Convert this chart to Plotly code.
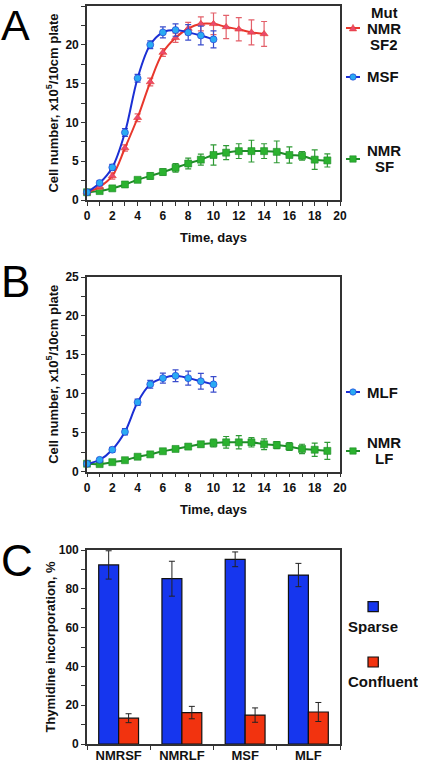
import plotly.graph_objects as go

# ---------------- data ----------------
# Panel A
days_msf = list(range(0, 11))
msf = [1.0, 2.2, 4.2, 8.7, 15.7, 20.0, 21.6, 21.9, 21.6, 21.2, 20.7]
msf_err = [0.2, 0.3, 0.4, 0.5, 0.5, 0.5, 0.7, 0.8, 1.0, 1.2, 1.1]

days_mut = list(range(0, 15))
mut = [1.0, 1.7, 3.1, 6.7, 10.6, 15.2, 19.0, 20.9, 22.1, 22.7, 22.7, 22.3, 22.0, 21.6, 21.4]
mut_err = [0.2, 0.3, 0.4, 0.4, 0.5, 0.5, 0.5, 0.6, 0.8, 0.9, 1.4, 1.5, 1.5, 1.6, 1.6]

days_nmrsf = list(range(0, 20))
nmrsf = [1.0, 1.15, 1.5, 2.0, 2.6, 3.1, 3.6, 4.15, 4.7, 5.2, 5.8, 6.1, 6.3, 6.3, 6.3, 6.2, 5.8, 5.7, 5.2, 5.1]
nmrsf_err = [0.2, 0.2, 0.2, 0.2, 0.3, 0.4, 0.4, 0.55, 0.7, 0.7, 1.3, 0.9, 0.95, 1.4, 0.95, 1.4, 1.05, 0.55, 1.25, 0.85]

# Panel B
days_mlf = list(range(0, 11))
mlf = [1.0, 1.5, 2.8, 5.1, 8.9, 11.2, 12.0, 12.3, 12.0, 11.6, 11.2]
mlf_err = [0.2, 0.2, 0.3, 0.4, 0.4, 0.5, 0.65, 0.75, 0.9, 1.0, 1.0]

days_nmrlf = list(range(0, 20))
nmrlf = [1.0, 0.95, 1.2, 1.45, 1.9, 2.2, 2.6, 2.9, 3.2, 3.5, 3.65, 3.75, 3.75, 3.75, 3.5, 3.4, 3.2, 2.9, 2.8, 2.65]
nmrlf_err = [0.15, 0.15, 0.15, 0.2, 0.2, 0.25, 0.25, 0.3, 0.3, 0.35, 0.5, 0.75, 0.85, 0.6, 0.7, 0.45, 0.5, 0.6, 0.85, 1.1]

# Panel C
cell_types = ["NMRSF", "NMRLF", "MSF", "MLF"]
sparse = [92.3, 85.2, 95.2, 87.1]
sparse_err = [7.3, 9.0, 3.8, 6.0]
confluent = [13.3, 16.2, 14.9, 16.5]
confluent_err = [2.3, 3.2, 3.7, 4.9]

x_ticks_days = [0, 2, 4, 6, 8, 10, 12, 14, 16, 18, 20]

# ---------------- styling ----------------
W, H = 424, 764
FONT = "Liberation Sans, Arial, sans-serif"
AXC = "#333333"

BLUE_L, BLUE_M, BLUE_E = "#1b2fd4", "#2aaaf2", "#3a4ccc"
RED_L, RED_M, RED_E = "#e8372c", "#ea4a6c", "#e3606a"
GRN_L, GRN_M, GRN_E = "#1f8c28", "#2bb22f", "#2f9a35"
BAR_BLUE, BAR_RED = "#1636ee", "#f2330f"


def px(x):
    return x / W


def py(y):
    return 1 - y / H


def series(xs, ys, es, xa, ya, lc, mc, ec, sym, size=7):
    return go.Scatter(
        x=xs, y=ys, xaxis=xa, yaxis=ya, mode="lines+markers",
        line=dict(color=lc, width=2, shape="spline", smoothing=1.0),
        marker=dict(color=mc, symbol=sym, size=size, line=dict(color=lc, width=0.6)),
        error_y=dict(type="data", array=es, visible=True, color=ec, thickness=1.2, width=3),
        cliponaxis=False, showlegend=False,
    )


fig = go.Figure()
# Panel A
fig.add_trace(series(days_nmrsf, nmrsf, nmrsf_err, "x", "y", GRN_L, GRN_M, GRN_E, "square"))
fig.add_trace(series(days_mut, mut, mut_err, "x", "y", RED_L, RED_M, RED_E, "triangle-up"))
fig.add_trace(series(days_msf, msf, msf_err, "x", "y", BLUE_L, BLUE_M, BLUE_E, "circle"))
# Panel B
fig.add_trace(series(days_nmrlf, nmrlf, nmrlf_err, "x2", "y2", GRN_L, GRN_M, GRN_E, "square"))
fig.add_trace(series(days_mlf, mlf, mlf_err, "x2", "y2", BLUE_L, BLUE_M, BLUE_E, "circle"))
# Panel C
fig.add_trace(go.Bar(x=cell_types, y=sparse, name="Sparse", xaxis="x3", yaxis="y3",
                     marker=dict(color=BAR_BLUE, line=dict(color="#111", width=1.2)),
                     error_y=dict(type="data", array=sparse_err, color="#222", thickness=1, width=3),
                     showlegend=False))
fig.add_trace(go.Bar(x=cell_types, y=confluent, name="Confluent", xaxis="x3", yaxis="y3",
                     marker=dict(color=BAR_RED, line=dict(color="#111", width=1.2)),
                     error_y=dict(type="data", array=confluent_err, color="#222", thickness=1, width=3),
                     showlegend=False))

tickfont = dict(family=FONT, size=12, color="#111", weight="bold")
titlefont = dict(family=FONT, size=13, color="#111", weight="bold")
xdom = [px(87), px(340)]


def xaxis_days(anchor):
    return dict(domain=xdom, anchor=anchor, range=[0, 20], tickvals=x_ticks_days,
                ticks="outside", ticklen=4, tickwidth=1.2, tickcolor=AXC,
                minor=dict(dtick=1, tick0=0, ticks="outside", ticklen=4, tickwidth=1.2, tickcolor=AXC),
                showline=True, linecolor=AXC, linewidth=1.6, mirror=True, automargin=False,
                showgrid=False, zeroline=False, tickfont=tickfont,
                title=dict(text="Time, days", font=titlefont, standoff=11))


def yaxis_cells(anchor, dom):
    return dict(domain=dom, anchor=anchor, range=[0, 25], dtick=5, tick0=0,
                ticks="outside", ticklen=4, tickwidth=1.2, tickcolor=AXC,
                minor=dict(dtick=2.5, tick0=0, ticks="outside", ticklen=4, tickwidth=1.2, tickcolor=AXC),
                showline=True, linecolor=AXC, linewidth=1.6, mirror=True, automargin=False,
                showgrid=False, zeroline=False, tickfont=tickfont,
                title=dict(text="Cell number, x10<sup>5</sup>/10cm plate", font=titlefont, standoff=4))


fig.update_layout(
    template="none",
    width=W, height=H, margin=dict(l=0, r=0, t=0, b=0, autoexpand=False),
    paper_bgcolor="white", plot_bgcolor="white",
    font=dict(family=FONT, color="#111"),
    showlegend=False, barmode="group", bargap=0.37, bargroupgap=0.0,
    xaxis=xaxis_days("y"),
    yaxis=yaxis_cells("x", [py(200), py(6)]),
    xaxis2=xaxis_days("y2"),
    yaxis2=yaxis_cells("x2", [py(471.5), py(277)]),
    xaxis3=dict(domain=xdom, anchor="y3", type="category", tickson="boundaries",
                ticks="outside", ticklen=4, tickwidth=1.2, tickcolor=AXC, automargin=False,
                showline=True, linecolor=AXC, linewidth=1.6, mirror=True, showgrid=False,
                ticklabelstandoff=-1,
                tickfont=dict(family=FONT, size=13, color="#111", weight="bold")),
    yaxis3=dict(domain=[py(744), py(550)], anchor="x3", range=[0, 100], dtick=20, tick0=0,
                ticks="outside", ticklen=4, tickwidth=1.2, tickcolor=AXC, automargin=False,
                minor=dict(dtick=10, tick0=0, ticks="outside", ticklen=4, tickwidth=1.2, tickcolor=AXC),
                showline=True, linecolor=AXC, linewidth=1.6, mirror=True,
                showgrid=False, zeroline=False, tickfont=tickfont,
                title=dict(text="Thymidine incorporation, %", font=titlefont, standoff=0)),
)

# ---------------- panel letters ----------------
fig.add_annotation(text="A", x=0, y=1, xref="paper", yref="paper",
                   xanchor="left", yanchor="top", showarrow=False, borderpad=0,
                   font=dict(family=FONT, size=43, color="#000"))
for letter, yc in [("B", 282), ("C", 560)]:
    fig.add_annotation(text=letter, x=0, y=py(yc), xref="paper", yref="paper",
                       xanchor="left", yanchor="middle", showarrow=False, borderpad=0,
                       font=dict(family=FONT, size=44, color="#000"))

# ---------------- legend keys (decorative shapes) + labels ----------------
KEY_X0, KEY_X1, KEY_XC = 346, 360, 353


def key_line(yc, color):
    fig.add_shape(type="line", xref="paper", yref="paper", x0=px(KEY_X0), x1=px(KEY_X1),
                  y0=py(yc), y1=py(yc), line=dict(color=color, width=2))


def key_circle(yc, fill, edge, r=3.2):
    fig.add_shape(type="circle", xref="paper", yref="paper",
                  x0=px(KEY_XC - r), x1=px(KEY_XC + r), y0=py(yc + r), y1=py(yc - r),
                  fillcolor=fill, line=dict(color=edge, width=0.6))


def key_square(yc, fill, edge, r=3.2):
    fig.add_shape(type="rect", xref="paper", yref="paper",
                  x0=px(KEY_XC - r), x1=px(KEY_XC + r), y0=py(yc + r), y1=py(yc - r),
                  fillcolor=fill, line=dict(color=edge, width=0.6))


def key_triangle(yc, fill, edge, r=3.6):
    p = "M {} {} L {} {} L {} {} Z".format(px(KEY_XC), py(yc - r), px(KEY_XC - r), py(yc + r * 0.8),
                                           px(KEY_XC + r), py(yc + r * 0.8))
    fig.add_shape(type="path", xref="paper", yref="paper", path=p,
                  fillcolor=fill, line=dict(color=edge, width=0.6))


key_line(28, RED_L); key_triangle(28, RED_M, RED_L)
key_line(77, BLUE_L); key_circle(77, BLUE_M, BLUE_L)
key_line(159, GRN_L); key_square(159, GRN_M, GRN_L)
key_line(392, BLUE_L); key_circle(392, BLUE_M, BLUE_L)
key_line(451, GRN_L); key_square(451, GRN_M, GRN_L)

legfont = dict(family=FONT, size=15, color="#111", weight="bold")


def label(text, x, yc, anchor="center"):
    fig.add_annotation(text=text, x=px(x), y=py(yc), xref="paper", yref="paper",
                       xanchor=anchor, yanchor="middle", showarrow=False, font=legfont,
                       height=15, borderpad=0, valign="middle")


label("Mut", 384, 12.5); label("NMR", 384, 28.5); label("SF2", 384, 44.5)
label("MSF", 366, 77, "left")
label("NMR", 384, 150.5); label("SF", 384, 167)
label("MLF", 366, 392, "left")
label("NMR", 384, 442); label("LF", 384, 458)

# bar legend squares
for yc, col in [(606.7, BAR_BLUE), (662, BAR_RED)]:
    fig.add_shape(type="rect", xref="paper", yref="paper",
                  x0=px(368), x1=px(378.3), y0=py(yc + 5), y1=py(yc - 5),
                  fillcolor=col, line=dict(color="#111", width=1.2))
label("Sparse", 347, 626, "left")
label("Confluent", 347, 681, "left")

fig.write_html("out.html", config={"displayModeBar": False},
               post_script="document.body.style.margin='0px';")
